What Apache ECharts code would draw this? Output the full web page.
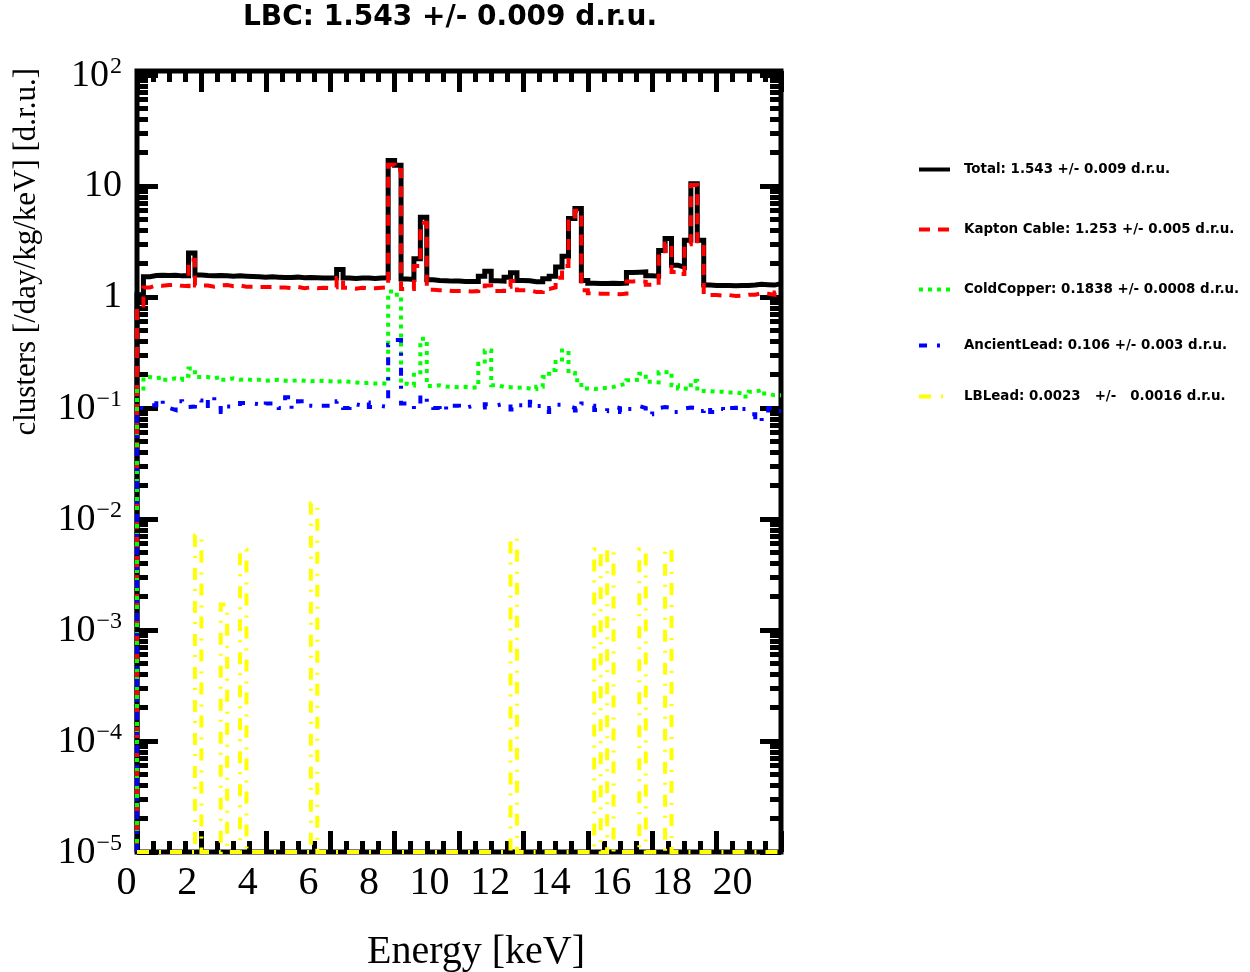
<!DOCTYPE html>
<html>
<head>
<meta charset="utf-8">
<title>LBC background spectrum</title>
<script src="https://cdn.jsdelivr.net/npm/echarts@6/dist/echarts.min.js"></script>
<style>
  html, body { margin: 0; padding: 0; background: #ffffff; }
  #chart { width: 1250px; height: 972px; }
</style>
</head>
<body>
<div id="chart"></div>
<script>
// Histogram binning: 100 bins of 0.2 keV between 0 and 20 keV
const E_MIN = 0;
const E_MAX = 20;
const BIN_WIDTH = 0.2;

// Rates per bin in d.r.u. (clusters / day / kg / keV)
const totalRate = [
  1.05, 1.52, 1.56, 1.57, 1.56, 1.57, 1.55, 1.55, 2.49, 1.58,
  1.56, 1.55, 1.56, 1.55, 1.54, 1.55, 1.54, 1.53, 1.52, 1.51,
  1.52, 1.51, 1.50, 1.50, 1.51, 1.49, 1.50, 1.49, 1.48, 1.48,
  1.49, 1.77, 1.48, 1.47, 1.48, 1.48, 1.47, 1.48, 1.49, 17.0,
  15.4, 1.45, 1.44, 2.21, 5.22, 1.43, 1.41, 1.40, 1.39, 1.39,
  1.38, 1.38, 1.38, 1.54, 1.71, 1.40, 1.39, 1.51, 1.65, 1.41,
  1.40, 1.37, 1.37, 1.46, 1.54, 1.86, 2.33, 5.09, 6.26, 1.41,
  1.33, 1.32, 1.32, 1.33, 1.32, 1.33, 1.66, 1.67, 1.68, 1.55,
  1.54, 2.63, 3.36, 1.93, 1.86, 3.24, 10.5, 3.24, 1.28, 1.27,
  1.27, 1.27, 1.26, 1.27, 1.27, 1.28, 1.30, 1.29, 1.28, 1.32
];

const kaptonCableRate = [
  0.80, 1.22, 1.27, 1.26, 1.28, 1.29, 1.26, 1.25, 2.16, 1.27,
  1.27, 1.24, 1.27, 1.28, 1.25, 1.27, 1.24, 1.24, 1.23, 1.23,
  1.23, 1.22, 1.22, 1.20, 1.23, 1.20, 1.22, 1.20, 1.21, 1.20,
  1.22, 1.48, 1.21, 1.19, 1.21, 1.20, 1.20, 1.21, 1.22, 15.5,
  13.9, 1.18, 1.18, 1.90, 4.67, 1.16, 1.15, 1.15, 1.13, 1.13,
  1.13, 1.12, 1.13, 1.19, 1.27, 1.13, 1.13, 1.24, 1.39, 1.15,
  1.15, 1.11, 1.11, 1.18, 1.22, 1.49, 1.90, 4.78, 5.99, 1.15,
  1.08, 1.07, 1.07, 1.07, 1.06, 1.07, 1.38, 1.39, 1.37, 1.29,
  1.27, 2.32, 3.04, 1.68, 1.61, 2.99, 10.2, 3.00, 1.04, 1.04,
  1.03, 1.04, 1.02, 1.03, 1.05, 1.05, 1.08, 1.07, 1.05, 1.10
];

const coldCopperRate = [
  0.150, 0.190, 0.185, 0.190, 0.180, 0.185, 0.180, 0.195, 0.227, 0.190,
  0.190, 0.185, 0.190, 0.180, 0.185, 0.180, 0.182, 0.178, 0.180, 0.176,
  0.178, 0.180, 0.176, 0.175, 0.178, 0.176, 0.174, 0.176, 0.175, 0.174,
  0.172, 0.175, 0.172, 0.170, 0.168, 0.168, 0.166, 0.167, 0.165, 1.12,
  1.05, 0.165, 0.160, 0.210, 0.420, 0.158, 0.160, 0.156, 0.155, 0.154,
  0.155, 0.152, 0.154, 0.250, 0.330, 0.160, 0.155, 0.154, 0.152, 0.153,
  0.150, 0.148, 0.155, 0.190, 0.220, 0.260, 0.330, 0.207, 0.178, 0.150,
  0.148, 0.150, 0.152, 0.155, 0.160, 0.166, 0.178, 0.180, 0.204, 0.172,
  0.170, 0.210, 0.212, 0.160, 0.150, 0.148, 0.175, 0.150, 0.142, 0.140,
  0.140, 0.138, 0.138, 0.135, 0.127, 0.140, 0.145, 0.135, 0.130, 0.130
];

const ancientLeadRate = [
  0.100, 0.106, 0.106, 0.120, 0.100, 0.096, 0.115, 0.102, 0.103, 0.117,
  0.100, 0.126, 0.100, 0.092, 0.103, 0.100, 0.111, 0.110, 0.108, 0.103,
  0.110, 0.110, 0.100, 0.125, 0.098, 0.115, 0.105, 0.104, 0.100, 0.105,
  0.103, 0.115, 0.100, 0.108, 0.105, 0.112, 0.102, 0.104, 0.102, 0.370,
  0.410, 0.110, 0.105, 0.098, 0.130, 0.112, 0.100, 0.094, 0.110, 0.105,
  0.100, 0.104, 0.101, 0.101, 0.108, 0.106, 0.109, 0.112, 0.097, 0.106,
  0.099, 0.114, 0.104, 0.092, 0.100, 0.107, 0.104, 0.100, 0.095, 0.110,
  0.105, 0.096, 0.094, 0.103, 0.100, 0.092, 0.098, 0.104, 0.100, 0.088,
  0.100, 0.102, 0.100, 0.092, 0.099, 0.101, 0.100, 0.094, 0.103, 0.092,
  0.098, 0.093, 0.100, 0.105, 0.098, 0.088, 0.075, 0.090, 0.100, 0.094
];

const lbLeadRate = [
  0, 0, 0, 0, 0, 0, 0, 0, 0, 0.0071,
  0, 0, 0, 0.0017, 0, 0, 0.0053, 0, 0, 0,
  0, 0, 0, 0, 0, 0, 0, 0.0138, 0, 0,
  0, 0, 0, 0, 0, 0, 0, 0, 0, 0,
  0, 0, 0, 0, 0, 0, 0, 0, 0, 0,
  0, 0, 0, 0, 0, 0, 0, 0, 0.0067, 0,
  0, 0, 0, 0, 0, 0, 0, 0, 0, 0,
  0, 0.0053, 0, 0.0053, 0, 0, 0, 0, 0.0053, 0,
  0, 0, 0.0053, 0, 0, 0, 0, 0, 0, 0,
  0, 0, 0, 0, 0, 0, 0, 0, 0, 0
];

const seriesLabels = [
  'Total: 1.543 +/- 0.009 d.r.u.',
  'Kapton Cable: 1.253 +/- 0.005 d.r.u.',
  'ColdCopper: 0.1838 +/- 0.0008 d.r.u.',
  'AncientLead: 0.106 +/- 0.003 d.r.u.',
  'LBLead: 0.0023   +/-   0.0016 d.r.u.'
];

const chartTitle = 'LBC: 1.543 +/- 0.009 d.r.u.';
const xTitle = 'Energy [keV]';
const yTitle = 'clusters [/day/kg/keV] [d.r.u.]';

// Energy tick labels and decade exponents on the rate axis
const energyTickLabels = [0, 2, 4, 6, 8, 10, 12, 14, 16, 18, 20];
const decadeExponents = [-5, -4, -3, -2, -1, 0, 1, 2];

// Rate axis range (log10): 1e-5 at the bottom of the frame
const LOG_MIN = -5;
const LOG_MAX = 2.036;
const Y_MIN = Math.pow(10, LOG_MIN);
const Y_MAX = Math.pow(10, LOG_MAX);

// Step-outline of a histogram, rising from the frame bottom at the first bin edge
function histOutline(values) {
  const pts = [[E_MIN, Y_MIN]];
  values.forEach((v, i) => pts.push([E_MIN + i * BIN_WIDTH, Math.max(v, Y_MIN)]));
  pts.push([E_MAX, Math.max(values[values.length - 1], Y_MIN)]);
  return pts;
}

// Minor log ticks at 2..9 × 10^n
const minorExponents = [];
decadeExponents.slice(0, -1).forEach(n => {
  for (let k = 2; k <= 9; k++) minorExponents.push(n + Math.log10(k));
});

const SERIF = 'Liberation Serif';
const SANS = 'DejaVu Sans';

const FRAME = { left: 137, top: 71, width: 644, height: 781 };
const MAJOR_LEN = 21, MINOR_LEN = 11, TICK_W = 5;

function tickAxis(position, values, len) {
  return {
    type: 'value', gridIndex: 0, position: position,
    min: LOG_MIN, max: LOG_MAX,
    axisLine: { show: false, onZero: false },
    splitLine: { show: false },
    axisLabel: { show: false },
    axisTick: {
      show: true, inside: true, length: len, customValues: values,
      lineStyle: { color: '#000', width: TICK_W }
    }
  };
}

function energyTickAxis(position, len) {
  return {
    type: 'value', gridIndex: 0, position: position,
    min: E_MIN, max: E_MAX, interval: 2,
    axisLine: { show: false, onZero: false },
    splitLine: { show: false },
    axisLabel: { show: false },
    axisTick: { show: true, inside: true, length: len, lineStyle: { color: '#000', width: TICK_W } },
    minorTick: { show: true, splitNumber: 4, length: MINOR_LEN, lineStyle: { color: '#000', width: TICK_W } }
  };
}

function supLabel(n) {
  if (n === 0) return '{b|1}';
  if (n === 1) return '{b|10}';
  return '{b|10}{s|' + (n < 0 ? '\u2212' + (-n) : String(n)) + '}';
}

const seriesColors = ['#000000', '#ff0000', '#00ff00', '#0000ff', '#ffff00'];
const seriesDashes = ['solid', [11, 8], [4, 5], [8, 10, 3, 12], [12, 10, 2, 9]];
const seriesWidths = [5, 4, 4, 4, 4];
const seriesRates = [totalRate, kaptonCableRate, coldCopperRate, ancientLeadRate, lbLeadRate];

const legendRowCenters = [171, 231, 291, 347, 398];

const chart = echarts.init(document.getElementById('chart'), null, { renderer: 'canvas' });

chart.setOption({
  animation: false,
  backgroundColor: '#ffffff',
  grid: [
    Object.assign({ show: true, borderColor: '#000', borderWidth: 5, backgroundColor: 'transparent', containLabel: false }, FRAME),
    // layout used only for the energy tick labels
    { show: false, left: 126.6, top: FRAME.top, width: 30.3 * 21.5, height: FRAME.height, containLabel: false }
  ],
  xAxis: [
    {
      type: 'value', gridIndex: 0, min: E_MIN, max: E_MAX, position: 'bottom',
      axisLine: { show: false, onZero: false }, axisTick: { show: false }, axisLabel: { show: false }, splitLine: { show: false }
    },
    energyTickAxis('bottom', MAJOR_LEN),
    energyTickAxis('top', MAJOR_LEN),
    {
      type: 'value', gridIndex: 1, min: 0, max: 21.5, interval: 2, position: 'bottom',
      axisLine: { show: false, onZero: false }, axisTick: { show: false }, splitLine: { show: false },
      axisLabel: {
        show: true, margin: 11, color: '#000', fontFamily: SERIF, fontSize: 40,
        customValues: energyTickLabels,
        formatter: v => String(v)
      }
    }
  ],
  yAxis: [
    {
      type: 'log', logBase: 10, gridIndex: 0, min: Y_MIN, max: Y_MAX,
      axisLine: { show: false, onZero: false }, axisTick: { show: false }, axisLabel: { show: false }, splitLine: { show: false }
    },
    Object.assign(tickAxis('left', decadeExponents, MAJOR_LEN), {
      axisLabel: {
        show: true, margin: 15, color: '#000', customValues: decadeExponents,
        formatter: v => supLabel(Math.round(v)),
        rich: {
          b: { fontFamily: SERIF, fontSize: 38, color: '#000', verticalAlign: 'bottom' },
          s: { fontFamily: SERIF, fontSize: 24, color: '#000', verticalAlign: 'bottom', padding: [0, 0, 16, 1] }
        }
      }
    }),
    tickAxis('left', minorExponents, MINOR_LEN),
    tickAxis('right', decadeExponents, MAJOR_LEN),
    tickAxis('right', minorExponents, MINOR_LEN),
    { type: 'value', gridIndex: 1, show: false, min: 0, max: 1 }
  ],
  legend: seriesLabels.map((name, i) => ({
    data: [name],
    left: 917,
    top: legendRowCenters[i] - 8,
    padding: 0,
    itemWidth: 31,
    itemHeight: 16,
    selectedMode: false,
    itemStyle: { opacity: 0 },
    lineStyle: { width: 4 },
    textStyle: { fontFamily: SANS, fontWeight: 'bold', fontSize: 13.4, color: '#000', padding: [0, 0, 0, 9] }
  })),
  series: seriesLabels.map((name, i) => ({
    name: name,
    type: 'line',
    xAxisIndex: 0,
    yAxisIndex: 0,
    step: 'end',
    symbol: 'none',
    clip: false,
    data: histOutline(seriesRates[i]),
    lineStyle: { color: seriesColors[i], width: seriesWidths[i], type: seriesDashes[i], cap: 'butt', join: 'miter' },
    itemStyle: { color: seriesColors[i] },
    emphasis: { disabled: true },
    z: 3 + i
  })),
  graphic: [
    {
      type: 'text', x: 450, y: 18,
      style: { text: chartTitle, font: 'bold 28px "' + SANS + '"', fill: '#000', align: 'center', verticalAlign: 'middle' }
    },
    {
      type: 'text', x: 476, y: 952,
      style: { text: xTitle, font: '40px "' + SERIF + '"', fill: '#000', align: 'center', verticalAlign: 'middle' }
    },
    {
      type: 'text', x: 27, y: 68, rotation: Math.PI / 2,
      style: { text: yTitle, font: '31px "' + SERIF + '"', fill: '#000', align: 'right', verticalAlign: 'middle' }
    }
  ]
});
</script>
</body>
</html>
